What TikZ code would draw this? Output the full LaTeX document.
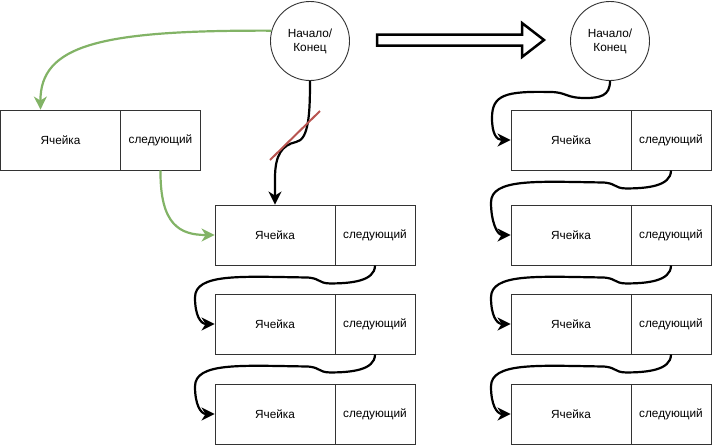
\documentclass[tikz,border=0pt]{standalone}
\usepackage{fontspec}
\setmainfont{Liberation Sans}
\usetikzlibrary{arrows.meta}
\definecolor{dgreen}{HTML}{82B366}
\definecolor{dred}{HTML}{B85450}
\definecolor{edge}{HTML}{333333}
\newcommand{\chainlink}[2]{%
  \begin{scope}[shift={(#1.south)}]
    \draw[link] (#1.south) .. controls (0,16) and (-25,18) .. (-45,18)
      .. controls (-57,18) and (-55,12) .. (-70,12)
      .. controls (-135,11) and (-180,8) .. (-180,32)
      .. controls (-180,50) and ([xshift=-14pt]#2.west) .. (#2.west);
  \end{scope}}
\begin{document}
\begin{tikzpicture}[x=1pt,y=-1pt,
  txt/.style={font=\fontsize{11.8}{14}\selectfont},
  cell/.style={txt, draw=edge, line width=0.9pt, minimum width=120pt, minimum height=60pt, inner sep=0pt},
  nxt/.style={cell, minimum width=80pt},
  endnode/.style={txt, circle, draw=edge, line width=0.9pt, minimum size=79pt, inner sep=0pt, align=center},
  link/.style={line width=2.2pt, -{Stealth[length=13pt,width=13pt,inset=4pt]}},
  glink/.style={link, draw=dgreen, -{Stealth[length=13pt,width=13pt,inset=4pt,fill=dgreen]}},
  ]
\useasboundingbox (0,0) rectangle (712,445);

% left part
\node[endnode] (C1) at (310,41) {Начало/\\Конец};
\node[cell] (L1)  at (60.5,140) {Ячейка};
\node[nxt]  (L1n) at (160.5,140) {следующий};
\node[cell] (M1)  at (275,235) {Ячейка};
\node[nxt]  (M1n) at (375,235) {следующий};
\node[cell] (M2)  at (275,324) {Ячейка};
\node[nxt]  (M2n) at (375,324) {следующий};
\node[cell] (M3)  at (275,414) {Ячейка};
\node[nxt]  (M3n) at (375,414) {следующий};

% right part
\node[endnode] (C2) at (610,41) {Начало/\\Конец};
\node[cell] (R1)  at (571,140) {Ячейка};
\node[nxt]  (R1n) at (671,140) {следующий};
\node[cell] (R2)  at (571,235) {Ячейка};
\node[nxt]  (R2n) at (671,235) {следующий};
\node[cell] (R3)  at (571,324) {Ячейка};
\node[nxt]  (R3n) at (671,324) {следующий};
\node[cell] (R4)  at (571,414) {Ячейка};
\node[nxt]  (R4n) at (671,414) {следующий};

% green arrows
\draw[glink] (C1.165) .. controls (100,30) and (40,45) .. ([xshift=-20pt]L1.north);
\draw[glink] (L1n.south) .. controls (160,225) and (180,235) .. (M1.west);

% crossed-out black arrow
\draw[link] (C1.south) .. controls (310,112) and (309,140) .. (296,142)
  .. controls (282,145) and (275,155) .. (275,178)
  .. controls (275,190) and (275,195) .. (M1.north);
\draw[dred, line width=2pt] (270,160) -- (320,111);

% chains
\chainlink{M1n}{M2}
\chainlink{M2n}{M3}
\chainlink{R1n}{R2}
\chainlink{R2n}{R3}
\chainlink{R3n}{R4}
\draw[link] (C2.south) .. controls (610,96) and (600,98) .. (585,98)
  .. controls (565,98) and (567,92) .. (550,92)
  .. controls (505,91) and (492,95) .. (492,118)
  .. controls (492,134) and ([xshift=-14pt]R1.west) .. (R1.west);

% big hollow arrow
\draw[line width=2.5pt, line join=miter, fill=white]
  (377,34.5) -- (522,34.5) -- (522,23) -- (544,40) -- (522,57) -- (522,45.5) -- (377,45.5) -- cycle;
\end{tikzpicture}
\end{document}
